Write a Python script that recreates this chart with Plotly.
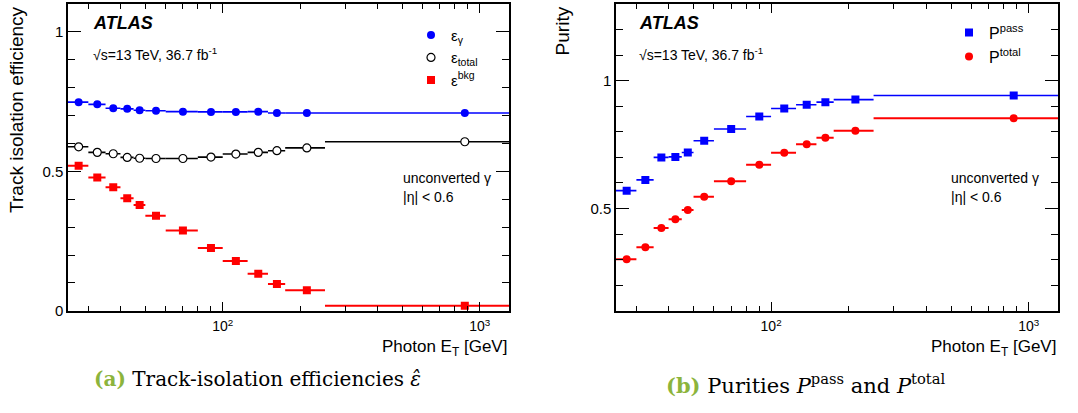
import numpy as np
import plotly.graph_objects as go

# ---------------- data ----------------
bin_edges = [25, 30, 35, 40, 45, 50, 60, 80, 100, 125, 150, 175, 250, 1500]

eff_gamma = [0.748, 0.740, 0.726, 0.724, 0.719, 0.717, 0.714, 0.713, 0.713, 0.714, 0.709, 0.709, 0.709]
eff_total = [0.588, 0.568, 0.563, 0.550, 0.547, 0.546, 0.546, 0.551, 0.562, 0.568, 0.574, 0.584, 0.606]
eff_bkg = [0.520, 0.478, 0.443, 0.404, 0.379, 0.341, 0.288, 0.225, 0.179, 0.133, 0.096, 0.074, 0.018]

pur_pass = [0.570, 0.612, 0.700, 0.702, 0.719, 0.765, 0.811, 0.860, 0.891, 0.906, 0.916, 0.926, 0.942]
pur_total = [0.302, 0.349, 0.424, 0.458, 0.494, 0.546, 0.607, 0.671, 0.718, 0.751, 0.777, 0.804, 0.853]

x_major_ticks = [100, 1000]
x_major_labels = ["10<sup>2</sup>", "10<sup>3</sup>"]
x_minor_ticks = [30, 40, 50, 60, 70, 80, 90, 200, 300, 400, 500, 600, 700, 800, 900]

left_y_ticks = [0, 0.5, 1]
left_y_labels = ["0", "0.5", "1"]
right_y_ticks = [0.5, 1]
right_y_labels = ["0.5", "1"]

# ---------------- derived ----------------
edges = np.array(bin_edges, dtype=float)
centers = 0.5 * (edges[:-1] + edges[1:])
err_plus = edges[1:] - centers
err_minus = centers - edges[:-1]

W, H = 1078, 413
FONT = "Liberation Sans, Arial, sans-serif"

def px(x):
    return x / W

def py(y):
    return 1 - y / H

fig = go.Figure()

def add_series(xa, ya, yvals, name, color, symbol, legend, fill=None, lw=2):
    fig.add_trace(go.Scatter(
        x=centers, y=yvals, mode="markers", name=name,
        xaxis=xa, yaxis=ya, legend=legend,
        marker=dict(symbol=symbol, size=8, color=fill if fill else color,
                    line=dict(color=color, width=1.2 if fill else 0)),
        error_x=dict(type="data", symmetric=False, array=err_plus, arrayminus=err_minus,
                     color=color, thickness=lw, width=0),
        cliponaxis=True,
    ))

add_series("x", "y", eff_gamma, "ε<sub>γ</sub>", "#0000ff", "circle", "legend", lw=1.6)
add_series("x", "y", eff_total, "ε<sub>total</sub>", "#000000", "circle", "legend", fill="white", lw=1.6)
add_series("x", "y", eff_bkg, "ε<sup>bkg</sup>", "#ff0000", "square", "legend")
add_series("x2", "y2", pur_pass, "P<sup>pass</sup>", "#0000ff", "square", "legend2", lw=1.6)
add_series("x2", "y2", pur_total, "P<sup>total</sup>", "#ff0000", "circle", "legend2")

xaxis_common = dict(
    type="log", range=[np.log10(25), np.log10(1300)],
    showline=True, linecolor="black", linewidth=1.5, mirror="allticks",
    ticks="inside", ticklen=9, tickwidth=1.2, tickcolor="black",
    tickmode="array", tickvals=x_major_ticks, ticktext=x_major_labels,
    minor=dict(tickmode="array", tickvals=x_minor_ticks, ticks="inside", ticklen=5,
               tickwidth=1.2, tickcolor="black", showgrid=False),
    showgrid=False, zeroline=False, ticklabelstandoff=2,
    tickfont=dict(family=FONT, size=14, color="black"),
)
yaxis_common = dict(
    showline=True, linecolor="black", linewidth=1.5, mirror="allticks",
    ticks="inside", ticklen=13, tickwidth=1.2, tickcolor="black",
    tickmode="array",
    minor=dict(dtick=0.1, tick0=0, ticks="inside", ticklen=7, tickwidth=1.2,
               tickcolor="black", showgrid=False),
    showgrid=False, zeroline=False,
    tickfont=dict(family=FONT, size=15, color="black"),
)

ydom = [py(317), py(4)]
fig.update_layout(
    width=W, height=H, margin=dict(l=0, r=0, t=0, b=0),
    paper_bgcolor="white", plot_bgcolor="white",
    xaxis=dict(domain=[px(68), px(509)], anchor="y", **xaxis_common),
    yaxis=dict(domain=ydom, anchor="x", range=[0, 1.1],
               tickvals=left_y_ticks, ticktext=left_y_labels, **yaxis_common),
    xaxis2=dict(domain=[px(616), px(1058)], anchor="y2", **xaxis_common),
    yaxis2=dict(domain=ydom, anchor="x2", range=[0.1, 1.3],
                tickvals=right_y_ticks, ticktext=right_y_labels, **yaxis_common),
    legend=dict(x=px(411), y=py(19), xanchor="left", yanchor="top",
                bgcolor="rgba(0,0,0,0)", font=dict(family=FONT, size=15, color="black"),
                itemwidth=30, tracegroupgap=0),
    legend2=dict(x=px(949), y=py(16), xanchor="left", yanchor="top",
                 bgcolor="rgba(0,0,0,0)", font=dict(family=FONT, size=16, color="black"),
                 itemwidth=30),
    showlegend=True,
)

annotations = []

def txt(text, x, y, size, xanchor="left", yanchor="middle", angle=0, family=FONT, color="black"):
    annotations.append(dict(
        text=text, x=px(x), y=py(y), xref="paper", yref="paper",
        xanchor=xanchor, yanchor=yanchor, showarrow=False, textangle=angle,
        font=dict(family=family, size=size, color=color),
    ))

for x0, ytitle_x, ytitle, xt_right in [(91, 17, "Track isolation efficiency", 509),
                                       (637, 562, "Purity", 1058)]:
    txt("<b><i>ATLAS</i></b>", x0, 23, 18)
    txt("√s=13 TeV, 36.7 fb<sup>-1</sup>", x0, 55, 14)
    txt(ytitle, ytitle_x, 5, 19, xanchor="center", yanchor="top", angle=-90)
    txt("Photon E<sub>T</sub> [GeV]", xt_right, 355, 17, xanchor="right")

txt("unconverted γ", 401, 182, 14)
txt("|η| < 0.6", 401, 201, 14)
txt("unconverted γ", 949, 182, 14)
txt("|η| < 0.6", 949, 201, 14)

SERIF = "DejaVu Serif, Liberation Serif, serif"
txt('<span style="color:#8cb43c"><b>(a)</b></span> Track-isolation efficiencies <i>ε̂</i>',
    257, 386, 20, xanchor="center", family=SERIF)
txt('<span style="color:#8cb43c"><b>(b)</b></span> Purities <i>P</i><sup>pass</sup> and <i>P</i><sup>total</sup>',
    805, 392, 21, xanchor="center", family=SERIF)

fig.update_layout(annotations=annotations)

fig.write_html("out.html")
